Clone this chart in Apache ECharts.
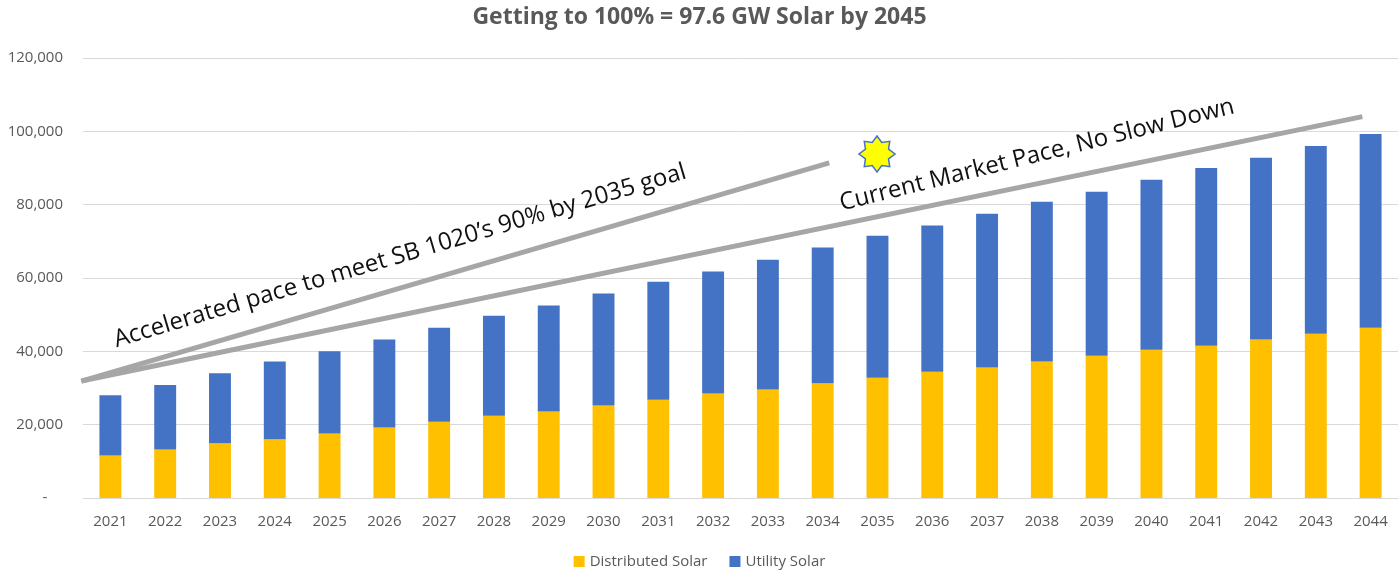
<!DOCTYPE html>
<html>
<head>
<meta charset="utf-8">
<script src="https://cdn.jsdelivr.net/npm/echarts@6/dist/echarts.min.js"></script>
<style>
  html, body { margin: 0; padding: 0; background: #fff; }
  #chart { width: 1399px; height: 572px; }
</style>
</head>
<body>
<div id="chart"></div>
<script>
// years on the x axis
var years = ['2021', '2022', '2023', '2024', '2025', '2026', '2027', '2028', '2029', '2030', '2031', '2032',
    '2033', '2034', '2035', '2036', '2037', '2038', '2039', '2040', '2041', '2042', '2043', '2044'];

// MW
var distributed = [11600, 13200, 14900, 16000, 17600, 19200, 20800, 22400, 23600, 25200, 26800, 28500,
    29600, 31300, 32800, 34400, 35600, 37200, 38800, 40400, 41500, 43200, 44800, 46400];
var totals = [28000, 30800, 34000, 37200, 40000, 43200, 46400, 49700, 52500, 55800, 59000, 61800,
    65000, 68300, 71500, 74300, 77500, 80800, 83500, 86800, 90000, 92800, 96000, 99300];
var utility = totals.map(function (t, i) { return t - distributed[i]; });

// pace lines, [category index, MW]
var acceleratedPace = [[-0.53, 31900], [13.12, 91400]];
var marketPace = [[-0.53, 31900], [22.85, 104000]];

var chart = echarts.init(document.getElementById('chart'));

// 8 point star
var starPts = [];
for (var k = 0; k < 16; k++) {
    var r = k % 2 === 0 ? 18 : 12.5;
    var a = -Math.PI / 2 + k * Math.PI / 8;
    starPts.push([r * Math.cos(a), r * Math.sin(a)]);
}

var option = {
    animation: false,
    textStyle: { fontFamily: 'Open Sans' },
    title: {
        text: 'Getting to 100% = 97.6 GW Solar by 2045',
        left: 'center',
        top: 1,
        textStyle: { color: '#595959', fontSize: 23, fontWeight: 'bold', fontFamily: 'Open Sans' }
    },
    legend: {
        bottom: -2,
        left: 'center',
        icon: 'rect',
        itemWidth: 11,
        itemHeight: 11,
        itemGap: 22,
        data: ['Distributed Solar', 'Utility Solar'],
        textStyle: { color: '#595959', fontSize: 15 }
    },
    grid: { left: 83, right: 1, top: 58, bottom: 74 },
    xAxis: [
        {
            type: 'category',
            data: years,
            axisTick: { show: false },
            axisLine: { lineStyle: { color: '#d9d9d9', width: 1 } },
            axisLabel: { color: '#595959', fontSize: 15, margin: 16 }
        },
        {
            type: 'value',
            min: -0.5,
            max: 23.5,
            show: false
        }
    ],
    yAxis: {
        type: 'value',
        min: 0,
        max: 120000,
        interval: 20000,
        axisLine: { show: false },
        axisTick: { show: false },
        splitLine: { lineStyle: { color: '#d9d9d9' } },
        axisLabel: {
            color: '#595959',
            fontSize: 15,
            margin: 20,
            formatter: function (v) {
                return v === 0 ? '-    ' : v.toLocaleString('en-US');
            }
        }
    },
    series: [
        {
            name: 'Distributed Solar',
            type: 'bar',
            stack: 'solar',
            barWidth: '40%',
            itemStyle: { color: '#FFC000' },
            data: distributed
        },
        {
            name: 'Utility Solar',
            type: 'bar',
            stack: 'solar',
            barWidth: '40%',
            itemStyle: { color: '#4472C4' },
            data: utility
        },
        {
            name: 'accelerated',
            type: 'line',
            xAxisIndex: 1,
            symbol: 'none',
            lineStyle: { color: '#a6a6a6', width: 5 },
            data: acceleratedPace,
            z: 5
        },
        {
            name: 'market',
            type: 'line',
            xAxisIndex: 1,
            symbol: 'none',
            lineStyle: { color: '#a6a6a6', width: 5 },
            data: marketPace,
            z: 5
        }
    ],
    graphic: [
        {
            type: 'text',
            x: 400, y: 256,
            rotation: 0.288,
            style: {
                text: 'Accelerated pace to meet SB 1020\u2019s 90% by 2035 goal',
                fill: '#111', fontSize: 24, fontFamily: 'Open Sans',
                align: 'center', verticalAlign: 'middle'
            },
            z: 10
        },
        {
            type: 'text',
            x: 1037, y: 155,
            rotation: 0.243,
            style: {
                text: 'Current Market Pace, No Slow Down',
                fill: '#111', fontSize: 24, fontFamily: 'Open Sans',
                align: 'center', verticalAlign: 'middle'
            },
            z: 10
        },
        {
            type: 'polygon',
            x: 877, y: 154,
            shape: { points: starPts },
            style: { fill: '#FFFF00', stroke: '#4472C4', lineWidth: 1.5 },
            z: 10
        }
    ]
};

chart.setOption(option);
</script>
</body>
</html>
